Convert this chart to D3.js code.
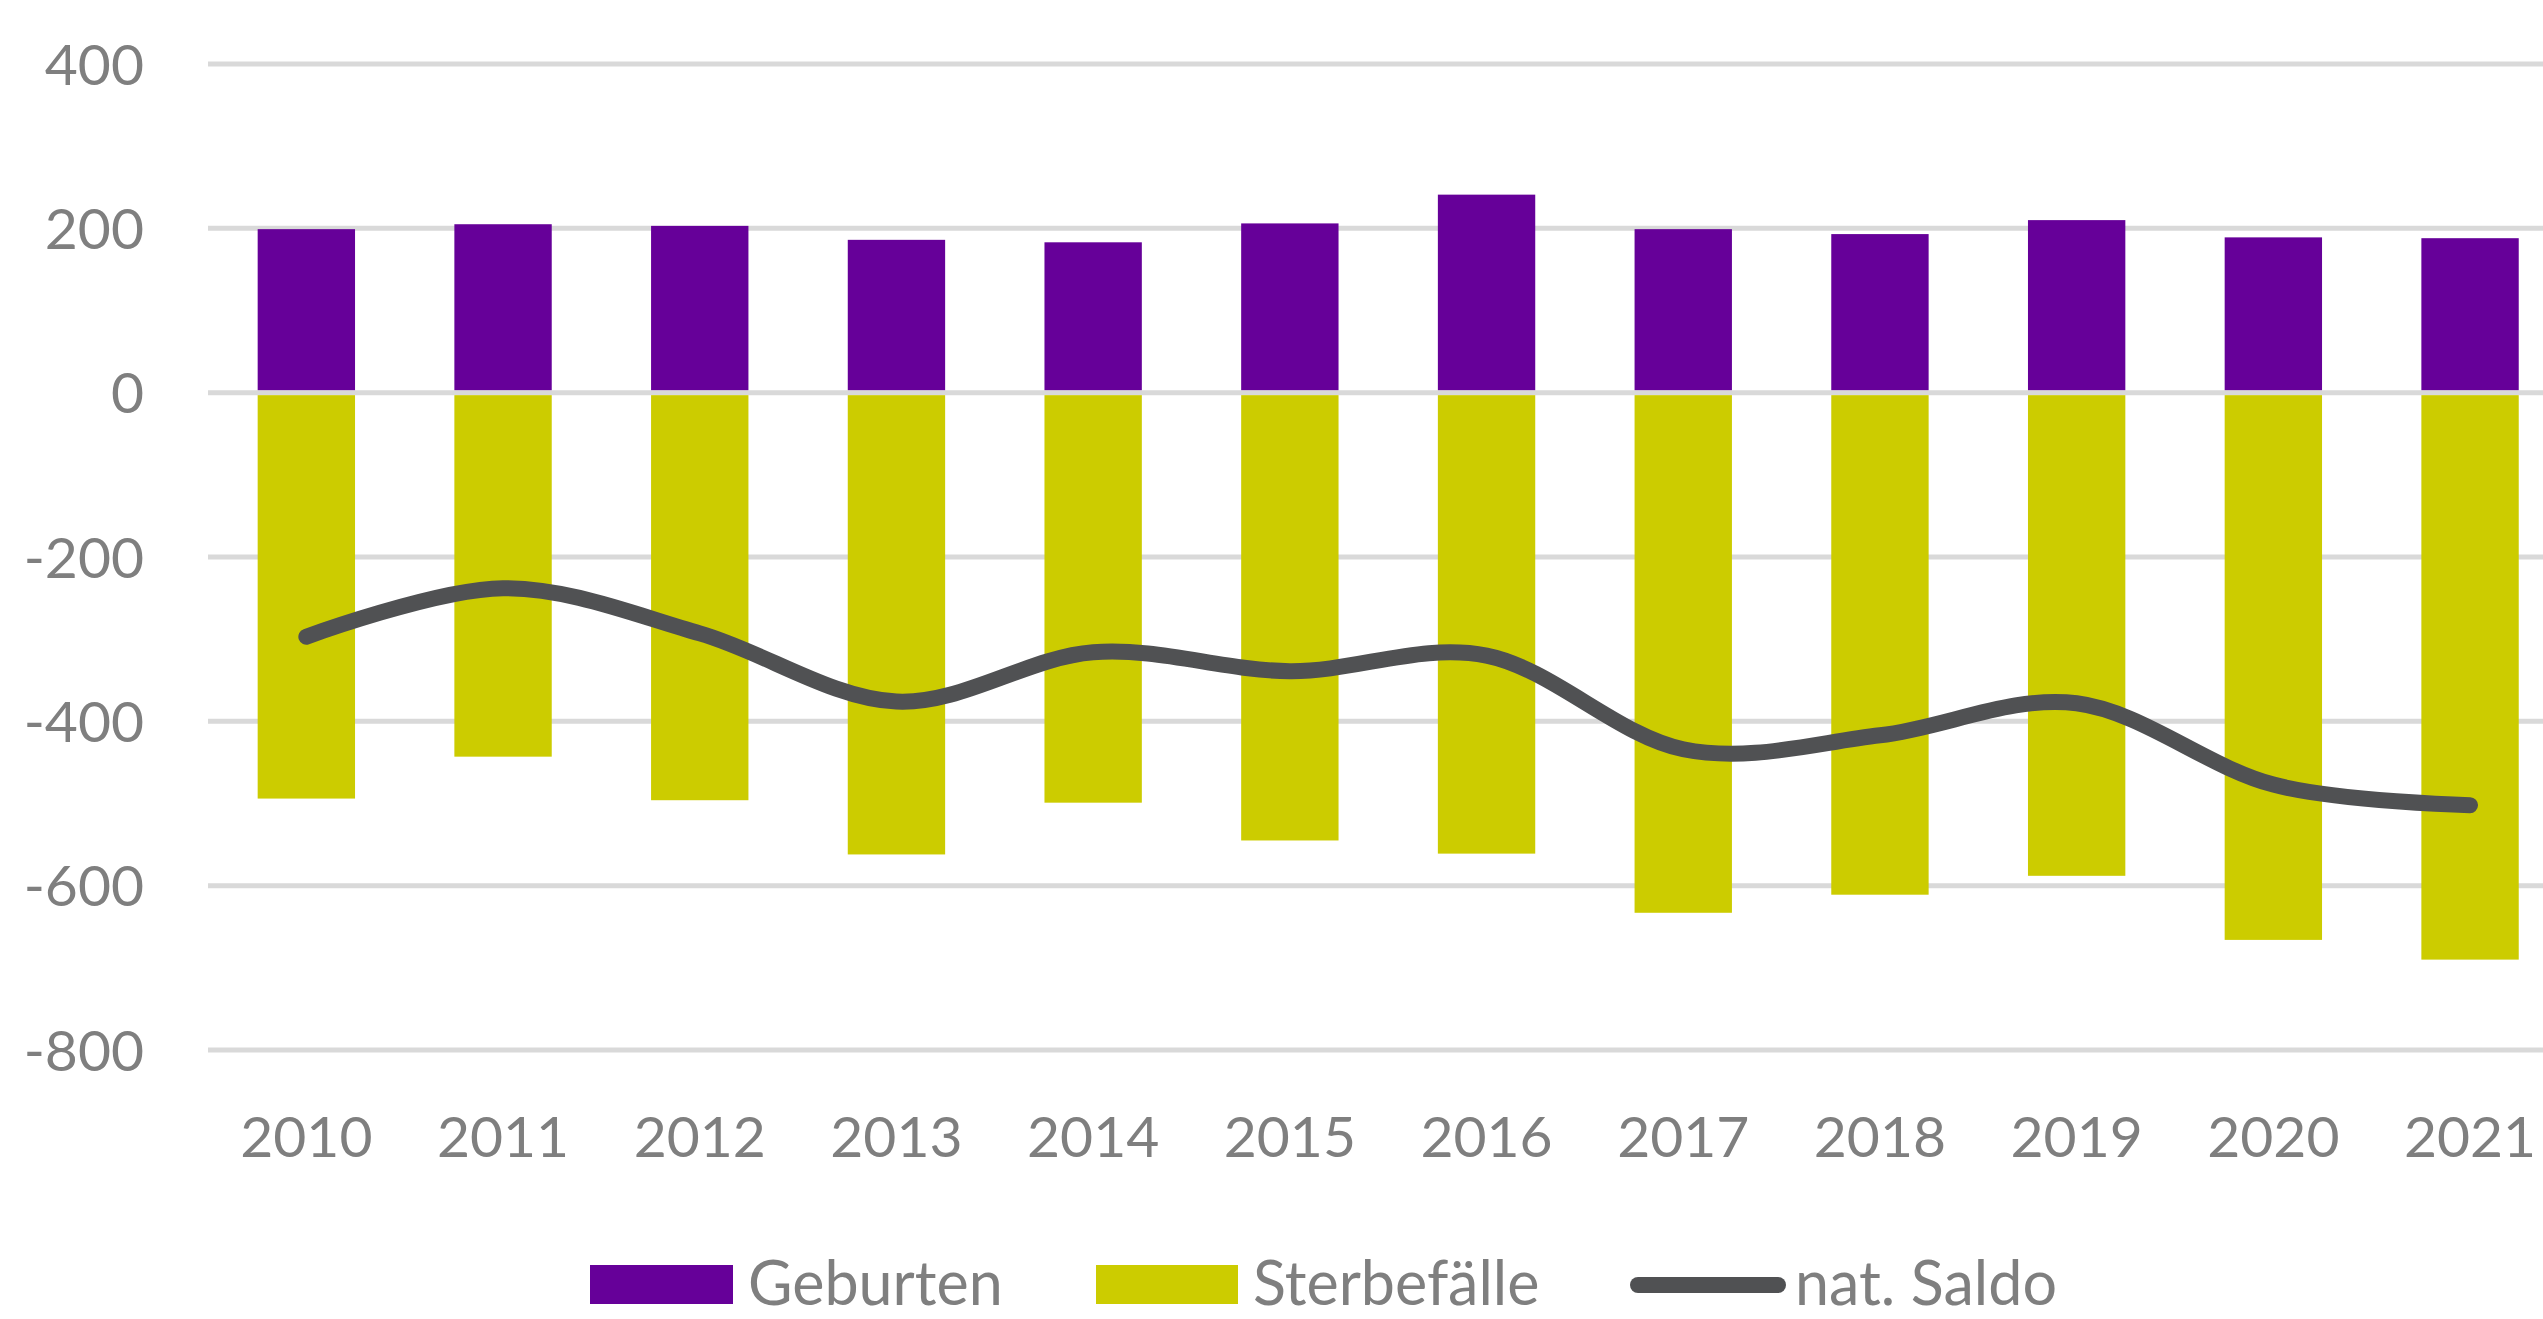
<!DOCTYPE html>
<html>
<head>
<meta charset="utf-8">
<script src="https://cdn.jsdelivr.net/npm/d3@7"></script>
<style>
  body { margin: 0; background: #fff; }
  svg { display: block; font-family: Lato, "Open Sans", sans-serif; }
</style>
</head>
<body>
<div id="chart"></div>
<script>
var years = ["2010", "2011", "2012", "2013", "2014", "2015", "2016", "2017", "2018", "2019", "2020", "2021"];
var geburten = [199, 205, 203, 186, 183, 206, 241, 199, 193, 210, 189, 188];
var sterbefaelle = [-494, -443, -496, -562, -499, -545, -561, -633, -611, -588, -666, -690];
var saldo = [-297, -238, -293, -376, -316, -339, -320, -434, -417, -378, -477, -502];
var yTicks = [400, 200, 0, -200, -400, -600, -800];

function init() {
    var w = 2543;
    var h = 1319;
    var left = 208;
    var step = 196.7;

    var svg = d3.select("#chart")
        .append("svg")
        .attr("width", w)
        .attr("height", h);

    var xScale = d3.scaleBand()
        .domain(years)
        .range([left, left + step * years.length])
        .paddingInner(0.505)
        .paddingOuter(0.2525);

    var yScale = d3.scaleLinear()
        .domain([-800, 400])
        .range([1050, 64]);

    // gridlines
    svg.append("g")
        .selectAll("line")
        .data(yTicks)
        .enter()
        .append("line")
        .attr("x1", left)
        .attr("x2", left + step * years.length)
        .attr("y1", function(d) { return yScale(d); })
        .attr("y2", function(d) { return yScale(d); })
        .attr("stroke", "#d9d9d9")
        .attr("stroke-width", 5);

    // y labels
    svg.append("g")
        .selectAll("text")
        .data(yTicks)
        .enter()
        .append("text")
        .attr("x", 144)
        .attr("y", function(d) { return yScale(d); })
        .attr("dy", "0.36em")
        .attr("text-anchor", "end")
        .attr("font-size", "57px")
        .attr("fill", "#7f7f7f")
        .text(function(d) { return d; });

    // Geburten bars
    svg.append("g")
        .selectAll("rect")
        .data(geburten)
        .enter()
        .append("rect")
        .attr("x", function(d, i) { return xScale(years[i]); })
        .attr("y", function(d) { return yScale(d); })
        .attr("width", xScale.bandwidth())
        .attr("height", function(d) { return yScale(0) - yScale(d) - 2.5; })
        .attr("fill", "#660099");

    // Sterbefaelle bars
    svg.append("g")
        .selectAll("rect")
        .data(sterbefaelle)
        .enter()
        .append("rect")
        .attr("x", function(d, i) { return xScale(years[i]); })
        .attr("y", yScale(0) + 2.5)
        .attr("width", xScale.bandwidth())
        .attr("height", function(d) { return yScale(d) - yScale(0) - 2.5; })
        .attr("fill", "#cccc00");

    // saldo line
    var line = d3.line()
        .x(function(d, i) { return xScale(years[i]) + xScale.bandwidth() / 2; })
        .y(function(d) { return yScale(d); })
        .curve(d3.curveCardinal.tension(0));

    svg.append("path")
        .datum(saldo)
        .attr("d", line)
        .attr("fill", "none")
        .attr("stroke", "#505153")
        .attr("stroke-width", 16)
        .attr("stroke-linecap", "round")
        .attr("stroke-linejoin", "round");

    // x axis labels
    svg.append("g")
        .selectAll("text")
        .data(years)
        .enter()
        .append("text")
        .attr("x", function(d) { return xScale(d) + xScale.bandwidth() / 2; })
        .attr("y", 1157)
        .attr("text-anchor", "middle")
        .attr("font-size", "57px")
        .attr("fill", "#7f7f7f")
        .text(function(d) { return d; });

    // legend
    var legend = svg.append("g");
    legend.append("rect").attr("x", 590).attr("y", 1265).attr("width", 143).attr("height", 39).attr("fill", "#660099");
    legend.append("text").attr("x", 748).attr("y", 1305).attr("font-size", "61px").attr("fill", "#7f7f7f").text("Geburten");
    legend.append("rect").attr("x", 1096).attr("y", 1265).attr("width", 142).attr("height", 39).attr("fill", "#cccc00");
    legend.append("text").attr("x", 1253).attr("y", 1305).attr("font-size", "61px").attr("fill", "#7f7f7f").text("Sterbefälle");
    legend.append("line").attr("x1", 1638).attr("x2", 1778).attr("y1", 1285).attr("y2", 1285)
        .attr("stroke", "#505153").attr("stroke-width", 16).attr("stroke-linecap", "round");
    legend.append("text").attr("x", 1795).attr("y", 1305).attr("font-size", "61px").attr("fill", "#7f7f7f").text("nat. Saldo");
}

window.onload = init;
</script>
</body>
</html>
